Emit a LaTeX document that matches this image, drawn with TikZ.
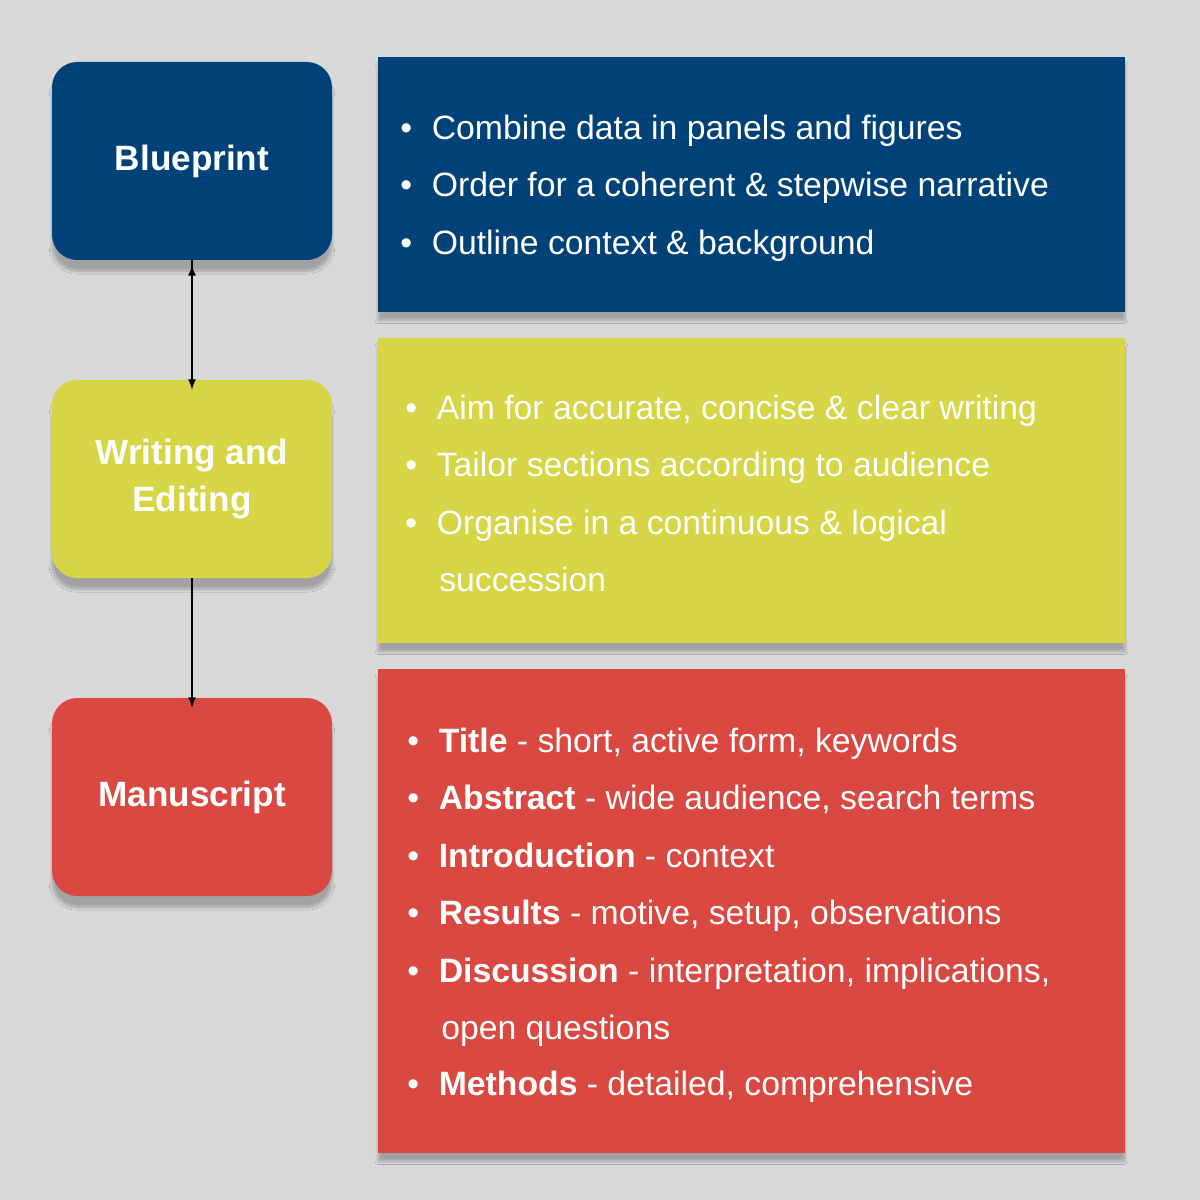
\documentclass[tikz,border=0pt]{standalone}
\usepackage{fontspec}
\setmainfont{Liberation Sans}
\usetikzlibrary{shadows.blur}
\definecolor{bpblue}{HTML}{004178}
\definecolor{wyellow}{HTML}{D6D545}
\definecolor{mred}{HTML}{D94841}
\definecolor{bg}{HTML}{D9D9D9}
\begin{document}
\begin{tikzpicture}[x=0.025cm,y=-0.025cm,
  stage/.style={rounded corners=18pt, minimum width=280*0.025cm, minimum height=198*0.025cm, text=white, font=\fontsize{25}{30}\selectfont\bfseries, align=center, inner sep=0, blur shadow={shadow xshift=0pt, shadow yshift=-8pt, shadow blur steps=8, shadow opacity=25}},
  panel/.style={blur shadow={shadow xshift=0pt, shadow yshift=-6pt, shadow blur steps=8, shadow opacity=25}},
  line/.style={anchor=base west, text=white, font=\fontsize{24}{28}\selectfont, inner sep=0},
  arr/.style={-latex, line width=1.5pt, black}]
\fill[bg] (0,0) rectangle (1200,1200);
\useasboundingbox (0,0) rectangle (1200,1200);
% panels
\fill[bpblue, panel] (378,57) rectangle (1125,312);
\fill[wyellow, panel] (378,338) rectangle (1125,643);
\fill[mred, panel] (378,669) rectangle (1125,1153);
% stages
\node[stage, fill=bpblue] (bp) at (192,161) {Blueprint};
\node[stage, fill=wyellow] (we) at (192,479) {Writing and\\[4pt]Editing};
\node[stage, fill=mred] (ms) at (192,797) {Manuscript};
\draw[arr] (bp.south) ++(0,5) coordinate (a1) ; 
\draw[arr] (bp.south) -- ([yshift=-10*0.025cm]we.north);
\draw[arr] (we.south) -- ([yshift=-10*0.025cm]ms.north);
% blue text
\node[line] (b1) at (400,140) {•\hspace{14pt}Combine data in panels and figures};
\node[line] (b2) at (400,197) {•\hspace{14pt}Order for a coherent \& stepwise narrative};
\node[line] (b3) at (400,255) {•\hspace{14pt}Outline context \& background};
% yellow text
\node[line] (y1) at (405,419) {•\hspace{14pt}Aim for accurate, concise \& clear writing};
\node[line] (y2) at (405,476) {•\hspace{14pt}Tailor sections according to audience};
\node[line] (y3) at (405,534) {•\hspace{14pt}Organise in a continuous \& logical};
\node[line] (y4) at (439,591) {succession};
% red text
\node[line] (r1) at (407,752) {•\hspace{14pt}\textbf{Title} - short, active form, keywords};
\node[line] (r2) at (407,809) {•\hspace{14pt}\textbf{Abstract} - wide audience, search terms};
\node[line] (r3) at (407,867) {•\hspace{14pt}\textbf{Introduction} - context};
\node[line] (r4) at (407,924) {•\hspace{14pt}\textbf{Results} - motive, setup, observations};
\node[line] (r5) at (407,982) {•\hspace{14pt}\textbf{Discussion} - interpretation, implications,};
\node[line] (r6) at (441,1039) {open questions};
\node[line] (r7) at (407,1095) {•\hspace{14pt}\textbf{Methods} - detailed, comprehensive};
\end{tikzpicture}
\end{document}
